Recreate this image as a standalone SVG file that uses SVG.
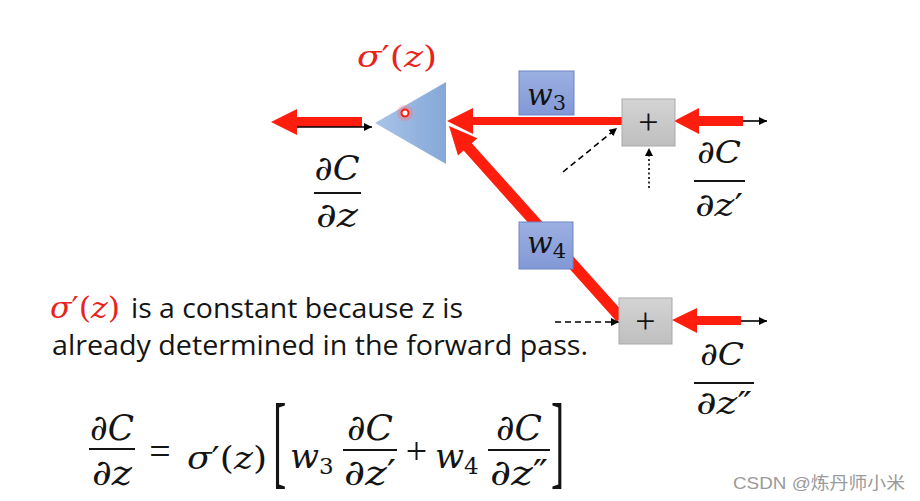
<svg xmlns="http://www.w3.org/2000/svg" width="920" height="501" viewBox="0 0 920 501">
<defs>
<style>
.red{fill:#ff1e0e}
.m{font-family:"DejaVu Serif","Liberation Serif",serif;font-style:italic;fill:#141414}
.up{font-style:normal}
.frac{stroke:#141414;stroke-width:2.2}
.txt{font-family:"Open Sans","Liberation Sans",sans-serif;font-size:28px;fill:#141414}
.blk{stroke:#000;stroke-width:1.6;fill:none}
.wbox{fill:url(#wg);stroke:#6d85c4;stroke-width:1}
.pbox{fill:url(#pg);stroke:#a9a9a9;stroke-width:1}
.brk{font-family:"Liberation Serif",serif;font-size:40px;fill:#141414}
</style>
<linearGradient id="tg" x1="0" y1="0" x2="1" y2="0">
<stop offset="0" stop-color="#a9c4e8"/><stop offset="1" stop-color="#84a8d8"/>
</linearGradient>
<linearGradient id="wg" x1="0" y1="0" x2="0" y2="1">
<stop offset="0" stop-color="#9cb0e2"/><stop offset="1" stop-color="#8298d6"/>
</linearGradient>
<linearGradient id="pg" x1="0" y1="0" x2="0" y2="1">
<stop offset="0" stop-color="#d4d4d4"/><stop offset="1" stop-color="#bfbfbf"/>
</linearGradient>
<marker id="ah" markerUnits="userSpaceOnUse" markerWidth="10" markerHeight="10" refX="8" refY="4" orient="auto">
<path d="M0,0 L8,4 L0,8 Z" fill="#000"/>
</marker>
</defs>
<rect width="920" height="501" fill="#fff"/>

<g id="neuron">
<polygon points="375,123 446,82 446,164" fill="url(#tg)"/>
<circle cx="405" cy="113" r="8" fill="#ff7070" opacity="0.35"/>
<circle cx="405" cy="113" r="3.5" fill="#fff" stroke="#ff1e0e" stroke-width="2"/>
<text class="m" x="357" y="67" font-size="30" textLength="80" lengthAdjust="spacingAndGlyphs" style="fill:#e8231a">σ<tspan class="up">′(</tspan>z<tspan class="up">)</tspan></text>
</g>

<g id="connectors">
<polygon class="red" points="271,122 297,109 297,117 362,117 362,127 297,127 297,135"/>
<line class="blk" x1="297" y1="127" x2="372" y2="127" marker-end="url(#ah)"/>
<polygon class="red" points="447,121 473,108 473,117 622,117 622,125 473,125 473,134"/>
<polygon class="red" points="449,126 477.4,138.2 471.8,143.2 625.1,314.3 616.9,321.7 463.6,150.6 458,155.6"/>
<polygon class="red" points="674,121 699,108 699,116 743,116 743,126 699,126 699,134"/>
<line class="blk" x1="743" y1="121" x2="767" y2="121" marker-end="url(#ah)"/>
<polygon class="red" points="672,320 697,308 697,316 741,316 741,325 697,325 697,333"/>
<line class="blk" x1="741" y1="321" x2="767" y2="321" marker-end="url(#ah)"/>
<line class="blk" x1="563" y1="172" x2="617" y2="128" stroke-dasharray="6 4" stroke-width="2" marker-end="url(#ah)"/>
<line class="blk" x1="649" y1="188" x2="649" y2="148" stroke-dasharray="2 2.5" stroke-width="2" marker-end="url(#ah)"/>
<line class="blk" x1="555" y1="322" x2="619" y2="322" stroke-dasharray="6 4" stroke-width="2" marker-end="url(#ah)"/>
</g>

<g id="w3">
<rect class="wbox" x="519" y="71" width="55" height="44"/>
<text class="m" x="527" y="105" font-size="30">w<tspan class="up" font-size="21" dy="5">3</tspan></text>
</g>
<g id="w4">
<rect class="wbox" x="519" y="222" width="54" height="47"/>
<text class="m" x="527" y="253" font-size="30">w<tspan class="up" font-size="21" dy="5">4</tspan></text>
</g>
<g id="sum1">
<rect class="pbox" x="622" y="99" width="53" height="47"/>
<text x="648.5" y="134" font-family="Liberation Serif,serif" font-size="36" text-anchor="middle" fill="#141414">+</text>
</g>
<g id="sum2">
<rect class="pbox" x="619" y="298" width="53" height="46"/>
<text x="645.5" y="333" font-family="Liberation Serif,serif" font-size="36" text-anchor="middle" fill="#141414">+</text>
</g>

<g id="dCdz">
<text class="m" x="337" y="180" font-size="34" text-anchor="middle" textLength="45" lengthAdjust="spacingAndGlyphs">∂C</text>
<line class="frac" x1="314" y1="193" x2="361" y2="193"/>
<text class="m" x="337" y="227" font-size="34" text-anchor="middle" textLength="42" lengthAdjust="spacingAndGlyphs">∂z</text>
</g>
<g id="dCdz1">
<text class="m" x="719" y="163" font-size="32" text-anchor="middle" textLength="44" lengthAdjust="spacingAndGlyphs">∂C</text>
<line class="frac" x1="694" y1="181" x2="745" y2="181"/>
<text class="m" x="719" y="216" font-size="32" text-anchor="middle" textLength="48" lengthAdjust="spacingAndGlyphs">∂z<tspan class="up">′</tspan></text>
</g>
<g id="dCdz2">
<text class="m" x="722" y="365" font-size="32" text-anchor="middle" textLength="44" lengthAdjust="spacingAndGlyphs">∂C</text>
<line class="frac" x1="694" y1="383" x2="754" y2="383"/>
<text class="m" x="724" y="414" font-size="32" text-anchor="middle" textLength="56" lengthAdjust="spacingAndGlyphs">∂z<tspan class="up">″</tspan></text>
</g>

<g id="note">
<text class="m" x="50" y="318" font-size="29" textLength="70" lengthAdjust="spacingAndGlyphs" style="fill:#e8231a">σ<tspan class="up">′(</tspan>z<tspan class="up">)</tspan></text>
<text class="txt" x="131" y="318" textLength="332" lengthAdjust="spacingAndGlyphs">is a constant because z is</text>
<text class="txt" x="52" y="355" textLength="536" lengthAdjust="spacingAndGlyphs">already determined in the forward pass.</text>
</g>

<g id="equation">
<text class="m" x="112" y="440" font-size="36" text-anchor="middle" textLength="44" lengthAdjust="spacingAndGlyphs">∂C</text>
<line class="frac" x1="89" y1="449" x2="135" y2="449"/>
<text class="m" x="112" y="485" font-size="36" text-anchor="middle" textLength="40" lengthAdjust="spacingAndGlyphs">∂z</text>
<text x="160" y="464" font-family="Liberation Serif,serif" font-size="38" text-anchor="middle" fill="#141414">=</text>
<text class="m" x="187" y="469" font-size="32" textLength="80" lengthAdjust="spacingAndGlyphs">σ<tspan class="up">′(</tspan>z<tspan class="up">)</tspan></text>
<text class="brk" transform="translate(273,475) scale(1,2.6)">[</text>
<text class="m" x="290" y="468" font-size="34">w<tspan class="up" font-size="23" dy="6">3</tspan></text>
<text class="m" x="370" y="440" font-size="36" text-anchor="middle" textLength="46" lengthAdjust="spacingAndGlyphs">∂C</text>
<line class="frac" x1="343" y1="450" x2="397" y2="450"/>
<text class="m" x="370" y="485" font-size="36" text-anchor="middle" textLength="52" lengthAdjust="spacingAndGlyphs">∂z<tspan class="up">′</tspan></text>
<text x="416.5" y="464" font-family="Liberation Serif,serif" font-size="38" text-anchor="middle" fill="#141414">+</text>
<text class="m" x="435" y="468" font-size="34">w<tspan class="up" font-size="23" dy="6">4</tspan></text>
<text class="m" x="519" y="440" font-size="36" text-anchor="middle" textLength="46" lengthAdjust="spacingAndGlyphs">∂C</text>
<line class="frac" x1="488" y1="450" x2="550" y2="450"/>
<text class="m" x="519" y="485" font-size="36" text-anchor="middle" textLength="58" lengthAdjust="spacingAndGlyphs">∂z<tspan class="up">″</tspan></text>
<text class="brk" transform="translate(551,475) scale(1,2.6)">]</text>
</g>

<text x="733" y="489" font-family="Liberation Sans,Noto Sans CJK SC,sans-serif" font-size="17" fill="#9a9a9a" textLength="172" lengthAdjust="spacingAndGlyphs">CSDN @炼丹师小米</text>
</svg>
